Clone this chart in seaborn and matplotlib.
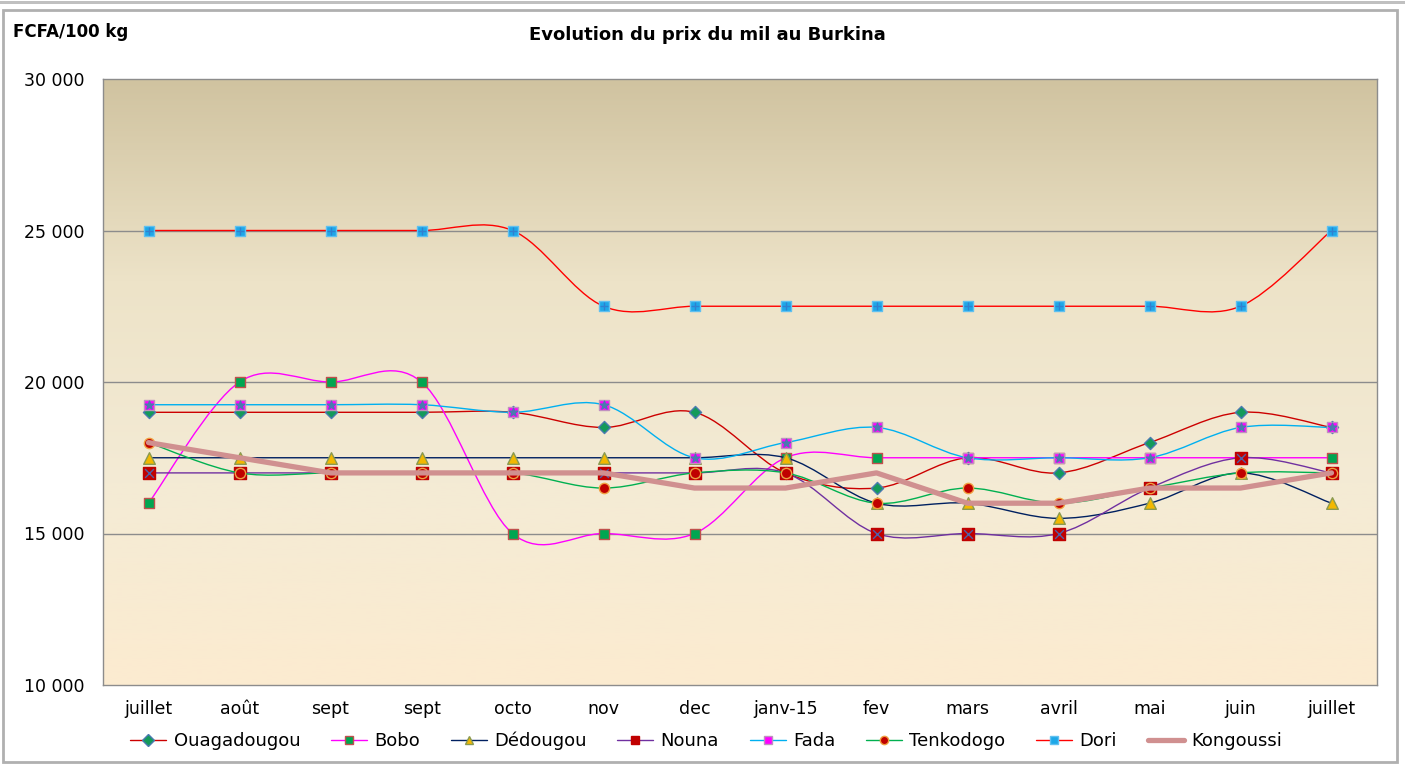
import numpy as np
import pandas as pd
import matplotlib
matplotlib.use("Agg")
import matplotlib.pyplot as plt
import seaborn as sns
from matplotlib.path import Path
from matplotlib.patches import PathPatch, Rectangle
from matplotlib.colors import LinearSegmentedColormap
from matplotlib.lines import Line2D
from matplotlib.ticker import FuncFormatter

months = ["juillet", "août", "sept", "sept", "octo", "nov", "dec", "janv-15",
          "fev", "mars", "avril", "mai", "juin", "juillet"]

ouagadougou = [19000, 19000, 19000, 19000, 19000, 18500, 19000, 17000, 16500, 17500, 17000, 18000, 19000, 18500]
bobo = [16000, 20000, 20000, 20000, 15000, 15000, 15000, 17500, 17500, 17500, 17500, 17500, 17500, 17500]
dedougou = [17500, 17500, 17500, 17500, 17500, 17500, 17500, 17500, 16000, 16000, 15500, 16000, 17000, 16000]
nouna = [17000, 17000, 17000, 17000, 17000, 17000, 17000, 17000, 15000, 15000, 15000, 16500, 17500, 17000]
fada = [19250, 19250, 19250, 19250, 19000, 19250, 17500, 18000, 18500, 17500, 17500, 17500, 18500, 18500]
tenkodogo = [18000, 17000, 17000, 17000, 17000, 16500, 17000, 17000, 16000, 16500, 16000, 16500, 17000, 17000]
dori = [25000, 25000, 25000, 25000, 25000, 22500, 22500, 22500, 22500, 22500, 22500, 22500, 22500, 25000]
kongoussi = [18000, 17500, 17000, 17000, 17000, 17000, 16500, 16500, 17000, 16000, 16000, 16500, 16500, 17000]

# name, values, line colour, marker, size, face, edge, overlay marker, overlay colour
series = [
    ("Ouagadougou", ouagadougou, "#CC0000", "D", 38, "#149A5A", "#4A7AB0", None, None),
    ("Bobo", bobo, "#FF00FF", "s", 60, "#00A651", "#C0504D", None, None),
    ("Dédougou", dedougou, "#002060", "^", 70, "#F2B800", "#8A9A50", None, None),
    ("Nouna", nouna, "#7030A0", "s", 64, "#C00000", "#C00000", "x", "#5060A8"),
    ("Fada", fada, "#00B0F0", "s", 56, "#FF00FF", "#C090C0", "*", "#4A7AB0"),
    ("Tenkodogo", tenkodogo, "#00B050", "o", 55, "#C00000", "#F0A040", None, None),
    ("Dori", dori, "#FF0000", "s", 52, "#1EA8E8", "#60C0F0", "+", "#3080D0"),
]

sns.set_style("white")
plt.rcParams["font.family"] = ["DejaVu Sans"]
plt.rcParams["text.color"] = "black"

fig = plt.figure(figsize=(14.05, 7.65), dpi=100)
ax = fig.add_axes([103 / 1405, 1 - 685 / 765, 1274 / 1405, 606 / 765])

x = np.arange(len(months))

# gradient background of the plot area
cmap = LinearSegmentedColormap.from_list("bg", ["#D0C3A0", "#EDE3C8", "#F4EBD5", "#FCEBD0"])
ax.imshow(np.linspace(0, 1, 256).reshape(-1, 1), cmap=cmap, aspect="auto",
          extent=(-0.5, len(months) - 0.5, 10000, 30000), origin="upper", zorder=0)

for yv in [15000, 20000, 25000]:
    ax.axhline(yv, color="#8C8C8C", lw=1.0, zorder=1)


def smooth_path(xs, ys):
    # Excel-like smoothed line: cubic Bezier through each point
    pts = np.column_stack([xs, ys]).astype(float)
    n = len(pts)
    verts = [pts[0]]
    codes = [Path.MOVETO]
    for i in range(n - 1):
        p0 = pts[i - 1] if i > 0 else pts[i]
        p1, p2 = pts[i], pts[i + 1]
        p3 = pts[i + 2] if i + 2 < n else pts[i + 1]
        c1 = p1 + (p2 - p0) / 6
        c2 = p2 - (p3 - p1) / 6
        verts += [c1, c2, p2]
        codes += [Path.CURVE4] * 3
    return Path(verts, codes)


for i, (name, vals, lc, mk, ms, fc, ec, ov, oc) in enumerate(series):
    z = 3 + i
    ax.add_patch(PathPatch(smooth_path(x, vals), fill=False, edgecolor=lc, lw=1.0, zorder=z))
    sns.scatterplot(x=x, y=vals, marker=mk, s=ms, color=fc,
                    edgecolor=ec, linewidth=1.0, ax=ax, zorder=z + 0.1, legend=False)
    if ov:
        sns.scatterplot(x=x, y=vals, marker=ov, s=40, color=oc, edgecolor=oc, linewidth=1.0,
                        ax=ax, zorder=z + 0.2, legend=False)

df_k = pd.DataFrame({"x": x, "y": kongoussi})
sns.lineplot(data=df_k, x="x", y="y", color="#D09090", lw=3.8, ax=ax, zorder=20)

ax.set_xlim(-0.5, len(months) - 0.5)
ax.set_ylim(10000, 30000)
ax.set_yticks([10000, 15000, 20000, 25000, 30000])
ax.yaxis.set_major_formatter(FuncFormatter(lambda v, p: f"{int(v):,}".replace(",", " ")))
ax.set_xticks(x)
ax.set_xticklabels(months)
ax.tick_params(axis="both", length=0, labelsize=12.5, colors="black")
ax.tick_params(axis="x", pad=11)
ax.tick_params(axis="y", pad=13)
ax.set_xlabel("")
ax.set_ylabel("")
for sp in ax.spines.values():
    sp.set_color("#8C8C8C")
    sp.set_linewidth(1.0)

fig.text(13 / 1405, 1 - 32 / 765, "FCFA/100 kg", fontsize=12, fontweight="bold", va="center",
         color="black")
fig.text(707 / 1405, 1 - 35 / 765, "Evolution du prix du mil au Burkina", fontsize=13,
         fontweight="bold", ha="center", va="center", color="black")

# legend
handles = []
for name, vals, lc, mk, ms, fc, ec, ov, oc in series:
    handles.append(Line2D([0], [0], color=lc, lw=1.0, marker=mk, markersize=6,
                          markerfacecolor=fc, markeredgecolor=ec, label=name))
handles.append(Line2D([0], [0], color="#D09090", lw=3.8, label="Kongoussi"))
leg = fig.legend(handles=handles, loc="center", bbox_to_anchor=(706 / 1405, 1 - 741 / 765),
                 ncol=8, frameon=False, fontsize=13, handlelength=2.0, columnspacing=1.7,
                 handletextpad=0.4)
for t in leg.get_texts():
    t.set_color("black")

# outer chart frame
fig.patches.append(Rectangle((3 / 1405, 3 / 765), 1394 / 1405, 752 / 765, transform=fig.transFigure,
                             fill=False, edgecolor="#B0B0B0", lw=2))
fig.patches.append(Rectangle((0, 1 - 4 / 765), 1, 3 / 765, transform=fig.transFigure,
                             fill=True, color="#C0C0C0", lw=0))

fig.savefig("out.png", dpi=100)
